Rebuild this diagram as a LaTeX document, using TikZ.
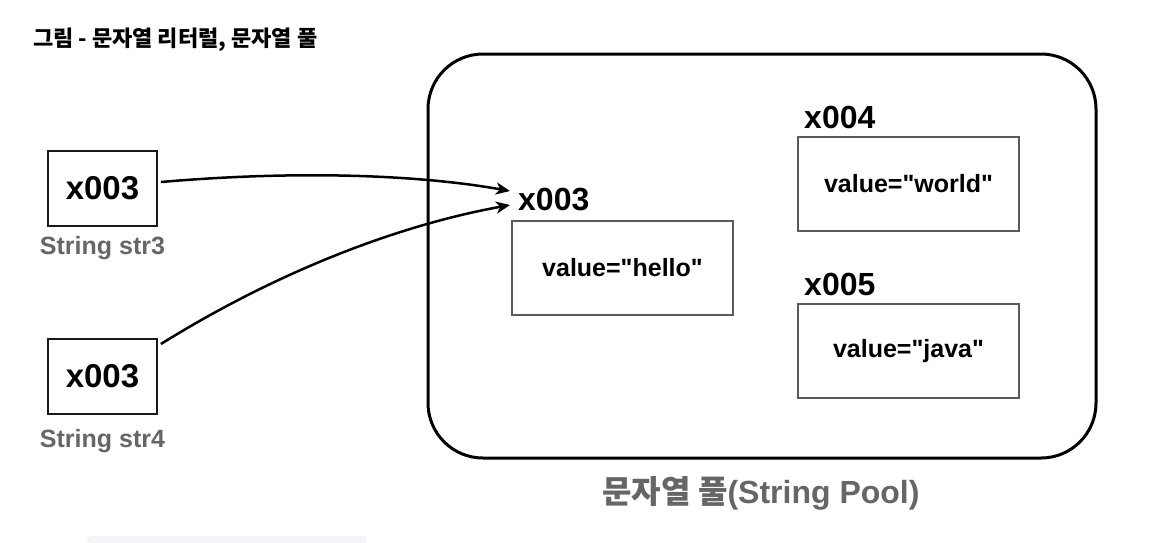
\documentclass[tikz,border=0pt]{standalone}
\usepackage{fontspec}
\setmainfont{Liberation Sans}
\setsansfont{Liberation Sans}
\newfontfamily\lsans{Liberation Sans}
\newfontfamily\cjk{Noto Sans CJK KR}
\usetikzlibrary{arrows.meta}
\definecolor{txtgray}{HTML}{666666}
\definecolor{boxgray}{HTML}{5A5A5A}
\definecolor{faintbg}{HTML}{F3F4F6}
\begin{document}
\begin{tikzpicture}[x=1pt,y=-1pt,
  varbox/.style={draw=black!90, line width=1.8pt, minimum width=109pt, minimum height=75pt, inner sep=0pt, font=\fontsize{33}{33}\lsans\bfseries},
  objbox/.style={draw=boxgray, line width=1.3pt, minimum width=221pt, minimum height=94pt, inner sep=0pt, font=\fontsize{25}{25}\lsans\bfseries},
  addr/.style={anchor=base west, inner sep=0pt, font=\fontsize{32}{32}\lsans\bfseries},
  varname/.style={anchor=base, inner sep=0pt, text=txtgray, font=\fontsize{25}{25}\lsans\bfseries},
  ref/.style={line width=2.5pt, -{Stealth[length=14pt,width=12pt,inset=4pt]}}
]
\useasboundingbox (0,0) rectangle (1172,542);
\fill[white] (0,0) rectangle (1172,542);
\fill[faintbg, rounded corners=4pt] (87,536) rectangle (367,550);

% title
\node[anchor=base west, inner sep=0pt, font=\fontsize{22}{26}\cjk\bfseries] (title) at (33,46) {그림 - 문자열 리터럴, 문자열 풀};

% string pool
\node[draw, line width=3pt, rounded corners=55pt, minimum width=668pt, minimum height=404pt, inner sep=0pt] (pool) at (762,256) {};
\node[anchor=base, inner sep=0pt, text=txtgray, font=\fontsize{32}{32}\lsans\bfseries] (plabel) at (761,503) {{\cjk\bfseries 문자열 풀}(String Pool)};

\node[objbox] (hello) at (622.5,268) {value="hello"};
\node[objbox] (world) at (908.5,184) {value="world"};
\node[objbox] (java) at (908.5,351) {value="java"};
\node[addr] (a3) at (518,210) {x003};
\node[addr] (a4) at (804,128) {x004};
\node[addr] (a5) at (804,295) {x005};

% variables
\node[varbox] (b1) at (102.5,188.5) {x003};
\node[varbox] (b2) at (102.5,376.5) {x003};
\node[varname] (s3) at (102.5,254.5) {String str3};
\node[varname] (s4) at (102.5,447.5) {String str4};

% references
\coordinate (t1) at ([shift={(-8,-19)}]a3.base west);
\coordinate (t2) at ([shift={(-8,-5)}]a3.base west);
\draw[ref] ([shift={(3,-6.5)}]b1.east) .. controls (300,170) and (420,175) .. (t1);
\draw[ref] ([shift={(3,-32.5)}]b2.east) .. controls (280,270) and (400,225) .. (t2);
\end{tikzpicture}
\end{document}
